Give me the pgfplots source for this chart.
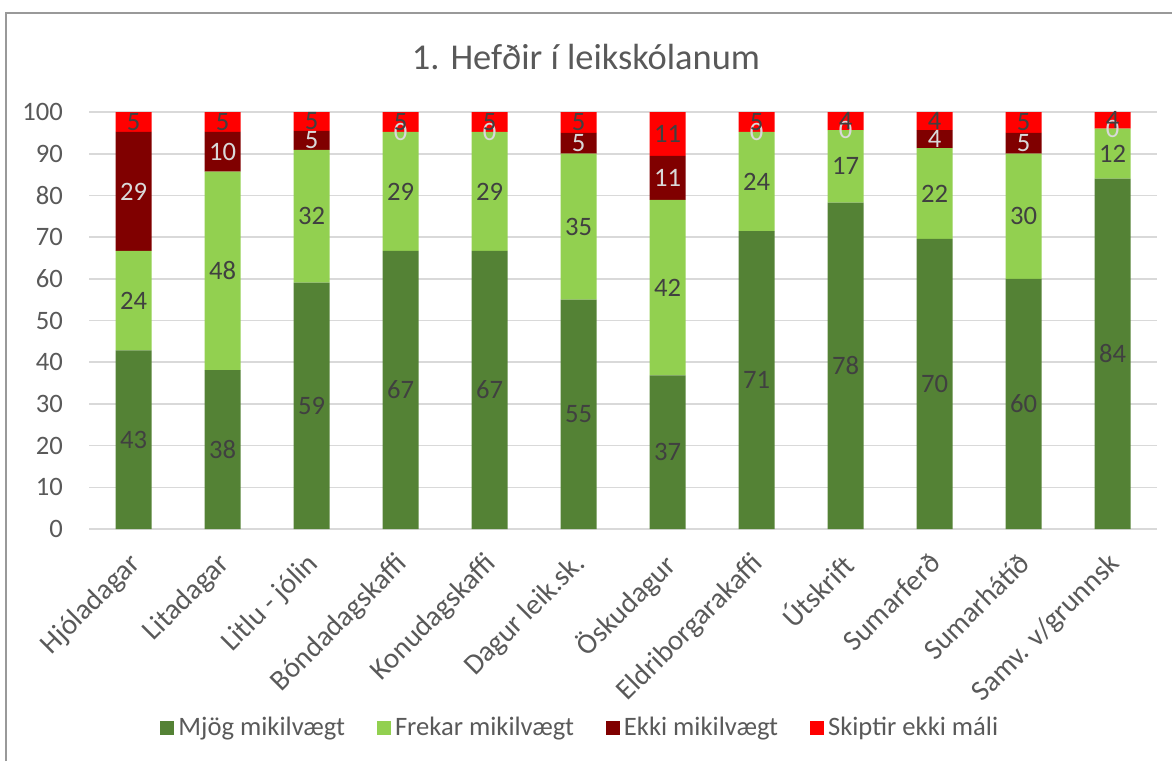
\documentclass[border=0pt]{standalone}
\usepackage{fontspec}
\setmainfont{Carlito}
\usepackage{pgfplots}
\usepackage{pgfplotstable}
\pgfplotsset{compat=1.18}

\definecolor{darkgrn}{HTML}{548235}
\definecolor{litegrn}{HTML}{92D050}
\definecolor{darkred}{HTML}{800000}
\definecolor{brightred}{HTML}{FF0000}
\definecolor{txtgray}{HTML}{595959}
\definecolor{lblgray}{HTML}{404040}
\definecolor{lbllight}{HTML}{D9D9D9}
\definecolor{gridgray}{HTML}{D9D9D9}

% a = Mjög mikilvægt, b = Frekar mikilvægt, c = Ekki mikilvægt, d = Skiptir ekki máli
\pgfplotstableread{
x  a      b      c      d
0  42.86  23.81  28.57  4.76
1  38.10  47.62  9.52   4.76
2  59.09  31.82  4.55   4.55
3  66.67  28.57  0      4.76
4  66.67  28.57  0      4.76
5  55.00  35.00  5.00   5.00
6  36.84  42.11  10.53  10.53
7  71.43  23.81  0      4.76
8  78.26  17.39  0      4.35
9  69.57  21.74  4.35   4.35
10 60.00  30.00  5.00   5.00
11 84.00  12.00  0      4.00
}\data

\pgfplotsset{
  frame/.style={at={(44.5pt,116pt)}, anchor=south west,
    scale only axis, width=534pt, height=208.5pt,
    xmin=-0.5, xmax=11.5, ymin=0, ymax=100,
    /pgf/number format/assume math mode=true},
  lbl/.style={draw=none, mark=none, forget plot, point meta=explicit,
    nodes near coords={\pgfmathprintnumber[fixed,precision=0,assume math mode=true]{\pgfplotspointmeta}},
    every node near coord/.append style={anchor=center, text=#1,
      font=\fontsize{13.3}{16}\selectfont}},
}

\begin{document}
\begin{tikzpicture}
\path[use as bounding box] (0,0) rectangle (586pt,380.5pt);
\draw[color=black!40, line width=1.2pt] (3pt,0) -- (3pt,374pt) -- (586pt,374pt);
\node[text=txtgray, font=\fontsize{18.2}{21}\selectfont] at (293pt,352pt) {1. Hefðir í leikskólanum};
\begin{axis}[
  frame,
  ybar stacked, bar width=18pt,
  xtick=data,
  xticklabels={Hjóladagar, Litadagar, Litlu - jólin, Bóndadagskaffi, Konudagskaffi, Dagur leik.sk., Öskudagur, Eldriborgarakaffi, Útskrift, Sumarferð, Sumarhátíð, Samv. v/grunnsk},
  ytick={0,10,...,100},
  ymajorgrids, grid style={gridgray, line width=0.8pt},
  axis line style={draw=none}, major tick length=0pt,
  tick label style={text=txtgray, font=\fontsize{13.3}{16}\selectfont},
  xticklabel style={rotate=45, anchor=north east, font=\fontsize{14.5}{17}\selectfont,
    xshift=-6.5pt, yshift=-2pt},
  yticklabel style={xshift=-9.5pt},
  legend columns=4,
  legend style={at={(0.461,-0.477)}, anchor=center, draw=none, fill=none,
    font=\fontsize{13.3}{16}\selectfont, text=txtgray,
    /tikz/every even column/.append style={column sep=14pt}},
  legend image code/.code={\fill[#1] (0pt,-3.5pt) rectangle (7pt,3.5pt);},
]
\addplot[fill=darkgrn, draw=none] table[x=x, y=a] {\data};
\addlegendentry{Mjög mikilvægt}
\addplot[fill=litegrn, draw=none] table[x=x, y=b] {\data};
\addlegendentry{Frekar mikilvægt}
\addplot[fill=darkred, draw=none] table[x=x, y=c] {\data};
\addlegendentry{Ekki mikilvægt}
\addplot[fill=brightred, draw=none] table[x=x, y=d] {\data};
\addlegendentry{Skiptir ekki máli}
\end{axis}
% data labels, centred in each segment
\begin{axis}[frame, hide axis]
\addplot[lbl=lblgray] table[x=x, y expr=\thisrow{a}/2, meta=a] {\data};
\addplot[lbl=lblgray] table[x=x, y expr=\thisrow{a}+\thisrow{b}/2, meta=b] {\data};
\addplot[lbl=lbllight] table[x=x, y expr=\thisrow{a}+\thisrow{b}+\thisrow{c}/2, meta=c] {\data};
\addplot[lbl=lblgray] table[x=x, y expr=\thisrow{a}+\thisrow{b}+\thisrow{c}+\thisrow{d}/2, meta=d] {\data};
\end{axis}
\end{tikzpicture}
\end{document}
